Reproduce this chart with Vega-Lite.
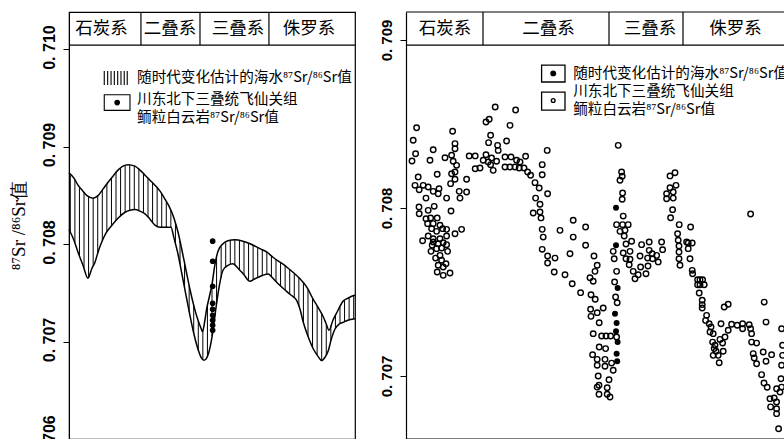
{
  "$schema": "https://vega.github.io/schema/vega-lite/v6.json",
  "padding": {"left": 8, "top": 10, "right": 0, "bottom": 0},
  "background": "white",
  "bounds": "flush",
  "spacing": 51,
  "config": {"view": {"stroke": null}, "font": "Noto Sans CJK SC"},
  "datasets": {
    "band": [
      {"t":353.0,"a":0.708716,"b":0.708120},{"t":349.5,"a":0.708659,"b":0.708011},{"t":346.0,"a":0.708586,"b":0.707879},{"t":342.5,"a":0.708531,"b":0.707756},{"t":339.0,"a":0.708489,"b":0.707664},{"t":335.5,"a":0.708470,"b":0.707776},{"t":332.0,"a":0.708494,"b":0.707906},{"t":328.5,"a":0.708553,"b":0.708032},{"t":325.0,"a":0.708619,"b":0.708123},{"t":321.5,"a":0.708677,"b":0.708186},{"t":318.0,"a":0.708733,"b":0.708241},{"t":314.5,"a":0.708779,"b":0.708287},{"t":311.0,"a":0.708806,"b":0.708326},{"t":307.5,"a":0.708810,"b":0.708346},{"t":304.0,"a":0.708800,"b":0.708353},{"t":300.5,"a":0.708767,"b":0.708341},{"t":297.0,"a":0.708723,"b":0.708318},{"t":293.5,"a":0.708676,"b":0.708276},{"t":290.0,"a":0.708628,"b":0.708223},{"t":286.5,"a":0.708577,"b":0.708184},{"t":283.0,"a":0.708514,"b":0.708172},{"t":279.5,"a":0.708436,"b":0.708172},{"t":276.0,"a":0.708344,"b":0.708172},{"t":272.5,"a":0.708215,"b":0.708002},{"t":269.0,"a":0.708029,"b":0.707793},{"t":265.5,"a":0.707803,"b":0.707549},{"t":262.0,"a":0.707575,"b":0.707310},{"t":258.5,"a":0.707375,"b":0.707088},{"t":255.0,"a":0.707209,"b":0.706912},{"t":251.5,"a":0.707119,"b":0.706818},{"t":248.0,"a":0.707368,"b":0.706851},{"t":244.5,"a":0.707587,"b":0.707056},{"t":241.0,"a":0.707863,"b":0.707392},{"t":237.5,"a":0.707975,"b":0.707655},{"t":234.0,"a":0.708019,"b":0.707759},{"t":230.5,"a":0.708037,"b":0.707793},{"t":227.0,"a":0.708044,"b":0.707780},{"t":223.5,"a":0.708036,"b":0.707736},{"t":220.0,"a":0.708025,"b":0.707685},{"t":216.5,"a":0.708008,"b":0.707633},{"t":213.0,"a":0.707987,"b":0.707634},{"t":209.5,"a":0.707963,"b":0.707656},{"t":206.0,"a":0.707939,"b":0.707677},{"t":202.5,"a":0.707916,"b":0.707690},{"t":199.0,"a":0.707878,"b":0.707664},{"t":195.5,"a":0.707843,"b":0.707615},{"t":192.0,"a":0.707810,"b":0.707570},{"t":188.5,"a":0.707775,"b":0.707527},{"t":185.0,"a":0.707738,"b":0.707488},{"t":181.5,"a":0.707698,"b":0.707444},{"t":178.0,"a":0.707654,"b":0.707360},{"t":174.5,"a":0.707602,"b":0.707194},{"t":171.0,"a":0.707537,"b":0.707053},{"t":167.5,"a":0.707447,"b":0.706940},{"t":164.0,"a":0.707366,"b":0.706860},{"t":160.5,"a":0.707282,"b":0.706804},{"t":157.0,"a":0.707180,"b":0.706864},{"t":153.5,"a":0.707168,"b":0.707008},{"t":150.0,"a":0.707267,"b":0.707133},{"t":146.5,"a":0.707361,"b":0.707182},{"t":143.0,"a":0.707423,"b":0.707203},{"t":139.5,"a":0.707450,"b":0.707221},{"t":136.0,"a":0.707471,"b":0.707232}
    ],
    "curve": [
      {"s":"A","t":354.0,"v":0.708730},{"s":"A","t":350.2,"v":0.708676},{"s":"A","t":347.1,"v":0.708604},{"s":"A","t":343.3,"v":0.708542},{"s":"A","t":340.2,"v":0.708496},{"s":"A","t":335.6,"v":0.708470},{"s":"A","t":331.8,"v":0.708496},{"s":"A","t":328.0,"v":0.708563},{"s":"A","t":324.1,"v":0.708634},{"s":"A","t":320.3,"v":0.708696},{"s":"A","t":316.5,"v":0.708758},{"s":"A","t":312.7,"v":0.708799},{"s":"A","t":308.8,"v":0.708814},{"s":"A","t":303.5,"v":0.708799},{"s":"A","t":299.6,"v":0.708758},{"s":"A","t":295.8,"v":0.708706},{"s":"A","t":292.0,"v":0.708655},{"s":"A","t":288.2,"v":0.708604},{"s":"A","t":284.3,"v":0.708542},{"s":"A","t":280.5,"v":0.708460},{"s":"A","t":276.7,"v":0.708368},{"s":"A","t":273.6,"v":0.708265},{"s":"A","t":270.5,"v":0.708121},{"s":"A","t":267.5,"v":0.707936},{"s":"A","t":264.4,"v":0.707731},{"s":"A","t":261.4,"v":0.707536},{"s":"A","t":258.3,"v":0.707361},{"s":"A","t":255.2,"v":0.707218},{"s":"A","t":252.9,"v":0.707136},{"s":"A","t":251.8,"v":0.707100},{"s":"A","t":250.2,"v":0.707197},{"s":"A","t":248.6,"v":0.707334},{"s":"A","t":246.8,"v":0.707444},{"s":"A","t":244.5,"v":0.707587},{"s":"A","t":242.2,"v":0.707793},{"s":"A","t":239.9,"v":0.707926},{"s":"A","t":236.1,"v":0.708003},{"s":"A","t":232.3,"v":0.708034},{"s":"A","t":226.9,"v":0.708044},{"s":"A","t":220.8,"v":0.708029},{"s":"A","t":215.4,"v":0.708003},{"s":"A","t":207.8,"v":0.707952},{"s":"A","t":202.4,"v":0.707916},{"s":"A","t":197.8,"v":0.707864},{"s":"A","t":190.1,"v":0.707793},{"s":"A","t":187.1,"v":0.707762},{"s":"A","t":182.5,"v":0.707710},{"s":"A","t":177.1,"v":0.707644},{"s":"A","t":171.8,"v":0.707556},{"s":"A","t":167.2,"v":0.707438},{"s":"A","t":163.3,"v":0.707351},{"s":"A","t":159.5,"v":0.707259},{"s":"A","t":157.2,"v":0.707187},{"s":"A","t":154.9,"v":0.707115},{"s":"A","t":151.9,"v":0.707218},{"s":"A","t":148.8,"v":0.707300},{"s":"A","t":146.5,"v":0.707361},{"s":"A","t":144.2,"v":0.707413},{"s":"A","t":140.4,"v":0.707444},{"s":"A","t":136.6,"v":0.707469},{"s":"A","t":135.0,"v":0.707474},
      {"s":"B","t":354.0,"v":0.708149},{"s":"B","t":350.2,"v":0.708039},{"s":"B","t":347.1,"v":0.707916},{"s":"B","t":343.3,"v":0.707782},{"s":"B","t":339.5,"v":0.707649},{"s":"B","t":336.4,"v":0.707752},{"s":"B","t":334.1,"v":0.707813},{"s":"B","t":331.8,"v":0.707916},{"s":"B","t":329.0,"v":0.708018},{"s":"B","t":325.7,"v":0.708111},{"s":"B","t":321.3,"v":0.708190},{"s":"B","t":316.5,"v":0.708265},{"s":"B","t":311.1,"v":0.708326},{"s":"B","t":307.3,"v":0.708347},{"s":"B","t":303.5,"v":0.708354},{"s":"B","t":299.6,"v":0.708337},{"s":"B","t":295.8,"v":0.708309},{"s":"B","t":292.0,"v":0.708255},{"s":"B","t":288.2,"v":0.708193},{"s":"B","t":284.3,"v":0.708172},{"s":"B","t":280.5,"v":0.708172},{"s":"B","t":275.9,"v":0.708172},{"s":"B","t":273.6,"v":0.708060},{"s":"B","t":270.5,"v":0.707895},{"s":"B","t":267.5,"v":0.707690},{"s":"B","t":264.4,"v":0.707474},{"s":"B","t":261.4,"v":0.707269},{"s":"B","t":258.3,"v":0.707074},{"s":"B","t":255.2,"v":0.706920},{"s":"B","t":252.9,"v":0.706838},{"s":"B","t":250.6,"v":0.706807},{"s":"B","t":248.3,"v":0.706838},{"s":"B","t":246.0,"v":0.706940},{"s":"B","t":243.7,"v":0.707115},{"s":"B","t":241.4,"v":0.707351},{"s":"B","t":239.1,"v":0.707556},{"s":"B","t":236.1,"v":0.707731},{"s":"B","t":232.3,"v":0.707782},{"s":"B","t":228.4,"v":0.707798},{"s":"B","t":224.6,"v":0.707752},{"s":"B","t":220.5,"v":0.707693},{"s":"B","t":215.4,"v":0.707618},{"s":"B","t":212.3,"v":0.707639},{"s":"B","t":209.1,"v":0.707659},{"s":"B","t":205.5,"v":0.707680},{"s":"B","t":201.4,"v":0.707693},{"s":"B","t":198.6,"v":0.707659},{"s":"B","t":195.0,"v":0.707608},{"s":"B","t":190.1,"v":0.707546},{"s":"B","t":184.8,"v":0.707485},{"s":"B","t":179.6,"v":0.707420},{"s":"B","t":177.1,"v":0.707331},{"s":"B","t":174.6,"v":0.707197},{"s":"B","t":171.0,"v":0.707053},{"s":"B","t":166.9,"v":0.706923},{"s":"B","t":163.3,"v":0.706848},{"s":"B","t":160.5,"v":0.706804},{"s":"B","t":158.0,"v":0.706838},{"s":"B","t":155.4,"v":0.706907},{"s":"B","t":153.4,"v":0.707012},{"s":"B","t":150.3,"v":0.707128},{"s":"B","t":147.3,"v":0.707177},{"s":"B","t":144.0,"v":0.707197},{"s":"B","t":140.4,"v":0.707218},{"s":"B","t":136.3,"v":0.707231},{"s":"B","t":135.0,"v":0.707233}
    ],
    "feixian": [
      {"t":244.0,"v":0.708029},{"t":244.0,"v":0.707823},{"t":244.0,"v":0.707567},{"t":244.0,"v":0.707392},{"t":244.0,"v":0.707331},{"t":244.0,"v":0.707269},{"t":244.0,"v":0.707218},{"t":244.0,"v":0.707166},{"t":244.0,"v":0.707115}
    ],
    "sea": [
      {"t":334.7,"v":0.708478},{"t":336.4,"v":0.708403},{"t":335.2,"v":0.708323},{"t":337.0,"v":0.708280},{"t":328.0,"v":0.708284},{"t":326.4,"v":0.708347},{"t":316.7,"v":0.708457},{"t":315.5,"v":0.708383},{"t":315.5,"v":0.708353},{"t":317.2,"v":0.708314},{"t":320.5,"v":0.708299},{"t":316.4,"v":0.708278},{"t":314.7,"v":0.708254},{"t":315.5,"v":0.708214},{"t":317.2,"v":0.708204},{"t":315.5,"v":0.708171},{"t":317.7,"v":0.708145},{"t":309.7,"v":0.708171},{"t":313.4,"v":0.708099},{"t":313.0,"v":0.708059},{"t":309.7,"v":0.708095},{"t":324.4,"v":0.708201},{"t":333.9,"v":0.708185},{"t":335.5,"v":0.708135},{"t":333.4,"v":0.708109},{"t":331.4,"v":0.708135},{"t":328.9,"v":0.708125},{"t":326.4,"v":0.708099},{"t":323.5,"v":0.708115},{"t":323.9,"v":0.708085},{"t":330.0,"v":0.708059},{"t":319.7,"v":0.708059},{"t":333.5,"v":0.708006},{"t":333.4,"v":0.707966},{"t":328.9,"v":0.707986},{"t":325.9,"v":0.708010},{"t":317.5,"v":0.707982},{"t":330.0,"v":0.707936},{"t":327.7,"v":0.707941},{"t":324.4,"v":0.707941},{"t":329.2,"v":0.707907},{"t":326.4,"v":0.707907},{"t":327.2,"v":0.707877},{"t":323.0,"v":0.707897},{"t":321.7,"v":0.707877},{"t":319.7,"v":0.707873},{"t":324.7,"v":0.707861},{"t":312.2,"v":0.707873},{"t":315.5,"v":0.707847},{"t":328.9,"v":0.707833},{"t":326.4,"v":0.707817},{"t":323.0,"v":0.707817},{"t":319.7,"v":0.707833},{"t":331.7,"v":0.707805},{"t":326.4,"v":0.707798},{"t":323.9,"v":0.707787},{"t":321.4,"v":0.707793},{"t":327.5,"v":0.707742},{"t":324.7,"v":0.707758},{"t":322.2,"v":0.707762},{"t":319.2,"v":0.707742},{"t":323.0,"v":0.707718},{"t":325.2,"v":0.707702},{"t":322.2,"v":0.707689},{"t":320.0,"v":0.707668},{"t":323.9,"v":0.707659},{"t":321.4,"v":0.707649},{"t":324.4,"v":0.707619},{"t":321.4,"v":0.707599},{"t":318.0,"v":0.707613},{"t":326.9,"v":0.707778},{"t":319.7,"v":0.707782},
      {"t":300.0,"v":0.708512},{"t":298.4,"v":0.708528},{"t":295.4,"v":0.708601},{"t":285.2,"v":0.708583},{"t":288.0,"v":0.708492},{"t":297.7,"v":0.708433},{"t":298.7,"v":0.708389},{"t":294.2,"v":0.708373},{"t":293.9,"v":0.708343},{"t":289.7,"v":0.708399},{"t":308.4,"v":0.708310},{"t":305.4,"v":0.708310},{"t":300.0,"v":0.708317},{"t":301.4,"v":0.708284},{"t":303.0,"v":0.708238},{"t":305.4,"v":0.708234},{"t":298.9,"v":0.708274},{"t":297.2,"v":0.708298},{"t":294.7,"v":0.708278},{"t":297.7,"v":0.708258},{"t":296.4,"v":0.708224},{"t":290.5,"v":0.708304},{"t":287.5,"v":0.708304},{"t":284.7,"v":0.708284},{"t":283.0,"v":0.708274},{"t":280.2,"v":0.708308},{"t":290.5,"v":0.708244},{"t":288.0,"v":0.708244},{"t":285.5,"v":0.708244},{"t":283.4,"v":0.708238},{"t":281.0,"v":0.708238},{"t":279.2,"v":0.708214},{"t":277.7,"v":0.708195},{"t":275.5,"v":0.708151},{"t":273.4,"v":0.708119},{"t":269.4,"v":0.708343},{"t":271.9,"v":0.708258},{"t":271.9,"v":0.708198},{"t":269.2,"v":0.708085},{"t":275.2,"v":0.708059},{"t":273.0,"v":0.708022},{"t":273.0,"v":0.707976},{"t":272.5,"v":0.707941},{"t":276.4,"v":0.707970},{"t":271.9,"v":0.707873},{"t":271.4,"v":0.707827},{"t":263.0,"v":0.707867},{"t":271.9,"v":0.707754},{"t":269.2,"v":0.707714},{"t":265.5,"v":0.707702},{"t":269.2,"v":0.707673},{"t":265.9,"v":0.707619},{"t":260.5,"v":0.707603},{"t":258.0,"v":0.707728},
      {"t":256.4,"v":0.707927},{"t":256.4,"v":0.707827},{"t":250.2,"v":0.707887},{"t":250.2,"v":0.707778},{"t":256.9,"v":0.707549},{"t":252.7,"v":0.707496},{"t":246.0,"v":0.707714},{"t":244.4,"v":0.707659},{"t":245.5,"v":0.707623},{"t":248.0,"v":0.707585},{"t":246.4,"v":0.707564},{"t":247.5,"v":0.707484},{"t":245.4,"v":0.707457},{"t":247.7,"v":0.707397},{"t":241.4,"v":0.707405},{"t":244.4,"v":0.707377},{"t":247.5,"v":0.707355},{"t":243.4,"v":0.707317},{"t":246.4,"v":0.707252},{"t":242.2,"v":0.707238},{"t":240.0,"v":0.707238},{"t":237.7,"v":0.707238},{"t":234.7,"v":0.707232},{"t":243.4,"v":0.707173},{"t":240.2,"v":0.707163},{"t":246.7,"v":0.707127},{"t":244.4,"v":0.707099},{"t":240.5,"v":0.707099},{"t":237.2,"v":0.707077},{"t":244.4,"v":0.707064},{"t":240.5,"v":0.707058},{"t":236.4,"v":0.707034},{"t":243.9,"v":0.707000},{"t":238.5,"v":0.706978},{"t":243.5,"v":0.706945},{"t":244.4,"v":0.706934},{"t":239.4,"v":0.706930},{"t":243.5,"v":0.706891},{"t":239.4,"v":0.706891},{"t":238.0,"v":0.706875},
      {"t":233.9,"v":0.708373},{"t":232.2,"v":0.708214},{"t":231.9,"v":0.708189},{"t":233.0,"v":0.708165},{"t":231.7,"v":0.708089},{"t":231.9,"v":0.708052},{"t":231.4,"v":0.707952},{"t":234.7,"v":0.707901},{"t":231.7,"v":0.707901},{"t":228.9,"v":0.707901},{"t":233.0,"v":0.707861},{"t":230.5,"v":0.707867},{"t":230.9,"v":0.707833},{"t":236.4,"v":0.707742},{"t":235.9,"v":0.707698},{"t":231.4,"v":0.707732},{"t":230.0,"v":0.707786},{"t":228.0,"v":0.707742},{"t":227.2,"v":0.707802},{"t":230.0,"v":0.707698},{"t":228.0,"v":0.707695},{"t":228.4,"v":0.707662},{"t":226.4,"v":0.707623},{"t":225.5,"v":0.707579},{"t":234.7,"v":0.707623},{"t":235.7,"v":0.707560},{"t":235.2,"v":0.707470},{"t":234.4,"v":0.707436},{"t":223.9,"v":0.707603},{"t":222.7,"v":0.707649},{"t":220.0,"v":0.707609},{"t":222.2,"v":0.707782},{"t":218.4,"v":0.707798},{"t":218.4,"v":0.707748},{"t":216.9,"v":0.707728},{"t":219.2,"v":0.707702},{"t":216.7,"v":0.707698},{"t":223.0,"v":0.707714},{"t":219.0,"v":0.707655},{"t":214.7,"v":0.707718},{"t":213.9,"v":0.707679},{"t":212.2,"v":0.707798},{"t":211.7,"v":0.707752},
      {"t":208.0,"v":0.708191},{"t":205.5,"v":0.708210},{"t":208.0,"v":0.708121},{"t":205.0,"v":0.708135},{"t":209.7,"v":0.708085},{"t":206.4,"v":0.708095},{"t":209.7,"v":0.708055},{"t":206.4,"v":0.708059},{"t":206.7,"v":0.707990},{"t":207.7,"v":0.707942},{"t":203.4,"v":0.707901},{"t":197.7,"v":0.707887},{"t":204.2,"v":0.707847},{"t":203.9,"v":0.707808},{"t":203.5,"v":0.707774},{"t":203.5,"v":0.707738},{"t":203.5,"v":0.707698},{"t":203.0,"v":0.707659},{"t":199.7,"v":0.707798},{"t":198.9,"v":0.707792},{"t":196.9,"v":0.707792},{"t":198.9,"v":0.707758},{"t":198.0,"v":0.707698},{"t":196.9,"v":0.707629},{"t":196.7,"v":0.707609},{"t":194.2,"v":0.707573},{"t":193.0,"v":0.707573},{"t":191.7,"v":0.707573},{"t":194.2,"v":0.707543},{"t":193.0,"v":0.707543},{"t":190.9,"v":0.707543},{"t":193.4,"v":0.707494},{"t":191.9,"v":0.707451},{"t":191.9,"v":0.707425},{"t":191.9,"v":0.707405},{"t":189.7,"v":0.707361},{"t":190.2,"v":0.707331},{"t":188.4,"v":0.707311},{"t":187.5,"v":0.707292},{"t":188.0,"v":0.707262},{"t":186.4,"v":0.707252},{"t":186.7,"v":0.707202},{"t":185.5,"v":0.707183},{"t":185.0,"v":0.707147},{"t":183.9,"v":0.707123},{"t":183.4,"v":0.707079},{"t":182.5,"v":0.707311},{"t":183.0,"v":0.707218},{"t":180.5,"v":0.707232},{"t":181.7,"v":0.707196},{"t":178.9,"v":0.707272},{"t":181.4,"v":0.707147},{"t":185.9,"v":0.707163},{"t":186.4,"v":0.707123},{"t":180.9,"v":0.707411},{"t":178.9,"v":0.707427},
      {"t":177.2,"v":0.707308},{"t":174.4,"v":0.707302},{"t":171.7,"v":0.707311},{"t":168.4,"v":0.707305},{"t":171.7,"v":0.707281},{"t":167.7,"v":0.707281},{"t":167.2,"v":0.707252},{"t":167.2,"v":0.707202},{"t":164.7,"v":0.707196},{"t":166.4,"v":0.707133},{"t":165.9,"v":0.707107},{"t":164.7,"v":0.707073},{"t":161.4,"v":0.707143},{"t":160.0,"v":0.707088},{"t":157.2,"v":0.707127},{"t":167.7,"v":0.707964},{"t":160.9,"v":0.707440},{"t":160.0,"v":0.707321},{"t":162.2,"v":0.707008},{"t":161.0,"v":0.706958},{"t":159.4,"v":0.706933},{"t":152.2,"v":0.707281},{"t":151.7,"v":0.707183},{"t":151.7,"v":0.707123},{"t":158.0,"v":0.706865},{"t":155.9,"v":0.706869},{"t":154.7,"v":0.706845},{"t":157.7,"v":0.706816},{"t":154.7,"v":0.706805},{"t":154.7,"v":0.706776},{"t":153.7,"v":0.706686},{"t":152.2,"v":0.707064},{"t":152.5,"v":0.706984},{"t":152.2,"v":0.706934},{"t":154.7,"v":0.706924},{"t":153.0,"v":0.706905}
    ],
    "samples": [
      {"t":235.0,"v":0.708002},{"t":235.0,"v":0.707778},{"t":234.2,"v":0.707524},{"t":235.5,"v":0.707371},{"t":234.7,"v":0.707316},{"t":235.0,"v":0.707266},{"t":234.2,"v":0.707202},{"t":234.7,"v":0.707133},{"t":234.4,"v":0.707088}
    ]
  },
  "hconcat": [
    {
      "width": 286,
      "height": 427,
      "view": {"stroke": "black", "strokeWidth": 1.2},
      "layer": [
        {
          "data": {"name": "band"},
          "mark": {"type": "rule", "color": "black", "strokeWidth": 1},
          "encoding": {
            "x": {"field": "t", "type": "quantitative", "scale": {"domain": [354, 135], "nice": false, "zero": false}, "axis": null},
            "y": {"field": "a", "type": "quantitative", "scale": {"domain": [0.706, 0.71038], "nice": false, "zero": false},
              "axis": {"values": [0.706, 0.707, 0.708, 0.709, 0.71], "labelExpr": "replace(format(datum.value, '.3f'), '.', '. ')",
                "labelAngle": -90, "labelAlign": "center", "labelBaseline": "bottom", "labelOffset": -2,
                "labelFont": "Liberation Sans", "labelFontWeight": "bold", "labelFontSize": 16, "labelColor": "black", "labelPadding": 6,
                "tickColor": "black", "tickSize": 6, "domainColor": "black", "grid": false,
                "title": "⁸⁷Sr /⁸⁶Sr值", "titleFont": "Liberation Serif", "titleFontSize": 19, "titleFontWeight": "normal", "titleColor": "black",
                "titleAngle": -90, "titleX": -45, "titleY": 213, "titleAlign": "center", "titleBaseline": "alphabetic"}},
            "y2": {"field": "b"}
          }
        },
        {
          "data": {"name": "curve"},
          "mark": {"type": "line", "interpolate": "monotone", "color": "black", "strokeWidth": 1.5},
          "encoding": {
            "x": {"field": "t", "type": "quantitative", "axis": null},
            "y": {"field": "v", "type": "quantitative"},
            "detail": {"field": "s"}
          }
        },
        {
          "data": {"name": "feixian"},
          "mark": {"type": "point", "shape": "circle", "filled": true, "color": "black", "size": 32, "opacity": 1},
          "encoding": {
            "x": {"field": "t", "type": "quantitative", "axis": null},
            "y": {"field": "v", "type": "quantitative"}
          }
        },
        {
          "data": {"values": [{"t": 298.9}, {"t": 253.7}, {"t": 200.9}]},
          "mark": {"type": "rule", "color": "black", "strokeWidth": 1.2},
          "encoding": {
            "x": {"field": "t", "type": "quantitative", "axis": null},
            "y": {"datum": 0.710041, "type": "quantitative"},
            "y2": {"datum": 0.71038}
          }
        },
        {
          "data": {"values": [{"from": 354, "to": 135, "v": 0.710041}]},
          "mark": {"type": "rule", "color": "black", "strokeWidth": 1.2},
          "encoding": {
            "x": {"field": "from", "type": "quantitative", "axis": null},
            "x2": {"field": "to"},
            "y": {"field": "v", "type": "quantitative"}
          }
        },
        {
          "data": {"values": [{"t": 329.1, "label": "石炭系"}, {"t": 276.7, "label": "二叠系"}, {"t": 224.6, "label": "三叠系"}, {"t": 170.2, "label": "侏罗系"}]},
          "mark": {"type": "text", "fontSize": 17.5, "color": "black", "baseline": "middle", "align": "center", "font": "Noto Sans CJK SC"},
          "encoding": {
            "x": {"field": "t", "type": "quantitative", "axis": null},
            "y": {"datum": 0.710205, "type": "quantitative"},
            "text": {"field": "label"}
          }
        },
        {
          "data": {"values": [{"t": 327.0}, {"t": 324.4}, {"t": 321.8}, {"t": 319.3}, {"t": 316.7}, {"t": 314.2}, {"t": 311.7}, {"t": 309.4}]},
          "mark": {"type": "rule", "color": "black", "strokeWidth": 1.1},
          "encoding": {
            "x": {"field": "t", "type": "quantitative", "axis": null},
            "y": {"datum": 0.709774, "type": "quantitative"},
            "y2": {"datum": 0.70963}
          }
        },
        {
          "data": {"values": [{"x1": 327.0, "x2": 307.3, "y1": 0.709531, "y2": 0.709371}]},
          "mark": {"type": "rect", "fill": "white", "stroke": "black", "strokeWidth": 1.1},
          "encoding": {
            "x": {"field": "x1", "type": "quantitative", "axis": null},
            "x2": {"field": "x2"},
            "y": {"field": "y1", "type": "quantitative"},
            "y2": {"field": "y2"}
          }
        },
        {
          "data": {"values": [{"t": 317.1, "v": 0.709451}]},
          "mark": {"type": "point", "shape": "circle", "filled": true, "color": "black", "size": 32, "opacity": 1},
          "encoding": {
            "x": {"field": "t", "type": "quantitative", "axis": null},
            "y": {"field": "v", "type": "quantitative"}
          }
        },
        {
          "data": {"values": [
            {"t": 301.9, "v": 0.709702, "label": "随时代变化估计的海水⁸⁷Sr/⁸⁶Sr值"},
            {"t": 301.9, "v": 0.709474, "label": "川东北下三叠统飞仙关组"},
            {"t": 301.9, "v": 0.709297, "label": "鲕粒白云岩⁸⁷Sr/⁸⁶Sr值"}
          ]},
          "mark": {"type": "text", "fontSize": 14.6, "color": "black", "baseline": "middle", "align": "left", "clip": true, "font": "Noto Sans CJK SC"},
          "encoding": {
            "x": {"field": "t", "type": "quantitative", "axis": null},
            "y": {"field": "v", "type": "quantitative"},
            "text": {"field": "label"}
          }
        }
      ]
    },
    {
      "width": 380,
      "height": 427,
      "view": {"stroke": null},
      "layer": [
        {
          "data": {"name": "sea"},
          "mark": {"type": "point", "shape": "circle", "filled": false, "color": "black", "strokeWidth": 1.4, "size": 30, "opacity": 1},
          "encoding": {
            "x": {"field": "t", "type": "quantitative", "scale": {"domain": [340, 150], "nice": false, "zero": false}, "axis": null},
            "y": {"field": "v", "type": "quantitative", "scale": {"domain": [0.706625, 0.7091667], "nice": false, "zero": false},
              "axis": {"values": [0.707, 0.708, 0.709], "labelExpr": "replace(format(datum.value, '.3f'), '.', '. ')",
                "labelAngle": -90, "labelAlign": "center", "labelBaseline": "bottom",
                "labelFont": "Liberation Sans", "labelFontWeight": "bold", "labelFontSize": 15, "labelColor": "black", "labelPadding": 6,
                "tickColor": "black", "tickSize": 6, "domainColor": "black", "domainWidth": 1.2, "grid": false, "title": ""}}
          }
        },
        {
          "data": {"name": "samples"},
          "mark": {"type": "point", "shape": "circle", "filled": true, "color": "black", "size": 36, "opacity": 1},
          "encoding": {
            "x": {"field": "t", "type": "quantitative", "axis": null},
            "y": {"field": "v", "type": "quantitative"}
          }
        },
        {
          "data": {"values": [{"t": 301.5}, {"t": 238.5}, {"t": 201.5}]},
          "mark": {"type": "rule", "color": "black", "strokeWidth": 1.2},
          "encoding": {
            "x": {"field": "t", "type": "quantitative", "axis": null},
            "y": {"datum": 0.70897, "type": "quantitative"},
            "y2": {"datum": 0.7091667}
          }
        },
        {
          "data": {"values": [{"from": 340, "to": 150, "v": 0.70897}, {"from": 340, "to": 150, "v": 0.7091667}, {"from": 340, "to": 150, "v": 0.706625}]},
          "mark": {"type": "rule", "color": "black", "strokeWidth": 1.2},
          "encoding": {
            "x": {"field": "from", "type": "quantitative", "axis": null},
            "x2": {"field": "to"},
            "y": {"field": "v", "type": "quantitative"}
          }
        },
        {
          "data": {"values": [{"t": 320.5, "label": "石炭系"}, {"t": 268.75, "label": "二叠系"}, {"t": 218.0, "label": "三叠系"}, {"t": 175.25, "label": "侏罗系"}]},
          "mark": {"type": "text", "fontSize": 17.5, "color": "black", "baseline": "middle", "align": "center", "font": "Noto Sans CJK SC"},
          "encoding": {
            "x": {"field": "t", "type": "quantitative", "axis": null},
            "y": {"datum": 0.709065, "type": "quantitative"},
            "text": {"field": "label"}
          }
        },
        {
          "data": {"values": [{"x1": 272.2, "x2": 260.5, "y1": 0.708851, "y2": 0.70875}, {"x1": 272.2, "x2": 260.5, "y1": 0.70869, "y2": 0.708583}]},
          "mark": {"type": "rect", "fill": "white", "stroke": "black", "strokeWidth": 1.3},
          "encoding": {
            "x": {"field": "x1", "type": "quantitative", "axis": null},
            "x2": {"field": "x2"},
            "y": {"field": "y1", "type": "quantitative"},
            "y2": {"field": "y2"}
          }
        },
        {
          "data": {"values": [{"t": 266.4, "v": 0.708801}]},
          "mark": {"type": "point", "shape": "circle", "filled": true, "color": "black", "size": 34, "opacity": 1},
          "encoding": {
            "x": {"field": "t", "type": "quantitative", "axis": null},
            "y": {"field": "v", "type": "quantitative"}
          }
        },
        {
          "data": {"values": [{"t": 266.4, "v": 0.70864}]},
          "mark": {"type": "point", "shape": "circle", "filled": false, "color": "black", "strokeWidth": 1.4, "size": 14, "opacity": 1},
          "encoding": {
            "x": {"field": "t", "type": "quantitative", "axis": null},
            "y": {"field": "v", "type": "quantitative"}
          }
        },
        {
          "data": {"values": [
            {"t": 256.4, "v": 0.708798, "label": "随时代变化估计的海水⁸⁷Sr/⁸⁶Sr值"},
            {"t": 256.4, "v": 0.708692, "label": "川东北下三叠统飞仙关组"},
            {"t": 256.4, "v": 0.708586, "label": "鲕粒白云岩⁸⁷Sr/⁸⁶Sr值"}
          ]},
          "mark": {"type": "text", "fontSize": 14.6, "color": "black", "baseline": "middle", "align": "left", "clip": true, "font": "Noto Sans CJK SC"},
          "encoding": {
            "x": {"field": "t", "type": "quantitative", "axis": null},
            "y": {"field": "v", "type": "quantitative"},
            "text": {"field": "label"}
          }
        }
      ]
    }
  ]
}
